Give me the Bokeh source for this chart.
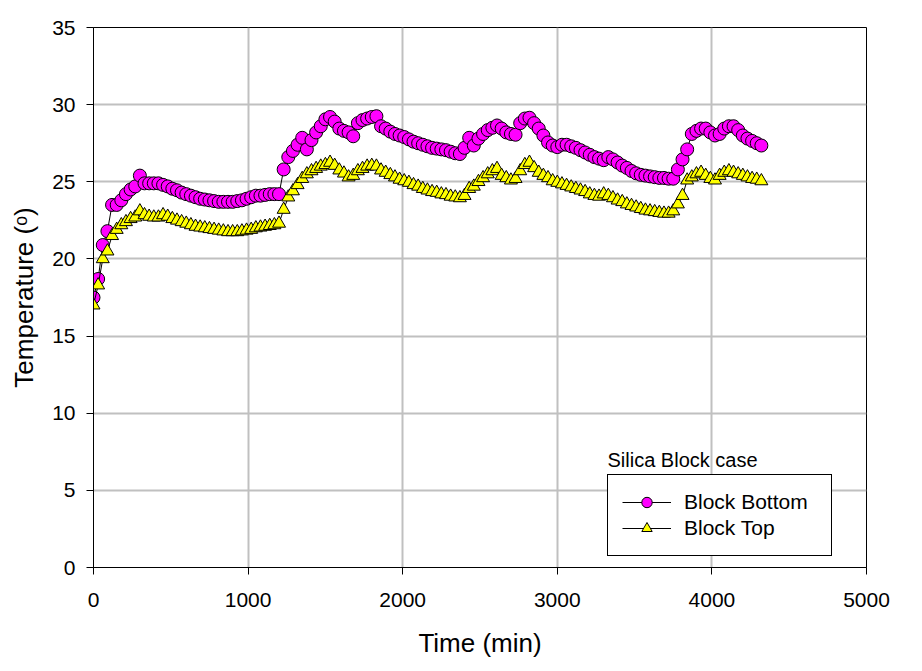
from bokeh.plotting import figure
from bokeh.models import Range1d, Legend, LegendItem, Label, FixedTicker
from bokeh.embed import file_html
from bokeh.resources import INLINE

time_min = [0, 30, 60, 90, 120, 150, 180, 210, 240, 270, 300, 330, 360, 390, 420, 450, 480, 510, 540, 570,
            600, 630, 660, 690, 720, 750, 780, 810, 840, 870, 900, 930, 960, 990, 1020, 1050, 1080, 1110, 1140, 1170,
            1200, 1230, 1260, 1290, 1320, 1350, 1380, 1410, 1440, 1470, 1500, 1530, 1560, 1590, 1620, 1650, 1680, 1710, 1740, 1770,
            1800, 1830, 1860, 1890, 1920, 1950, 1980, 2010, 2040, 2070, 2100, 2130, 2160, 2190, 2220, 2250, 2280, 2310, 2340, 2370,
            2400, 2430, 2460, 2490, 2520, 2550, 2580, 2610, 2640, 2670, 2700, 2730, 2760, 2790, 2820, 2850, 2880, 2910, 2940, 2970,
            3000, 3030, 3060, 3090, 3120, 3150, 3180, 3210, 3240, 3270, 3300, 3330, 3360, 3390, 3420, 3450, 3480, 3510, 3540, 3570,
            3600, 3630, 3660, 3690, 3720, 3750, 3780, 3810, 3840, 3870, 3900, 3930, 3960, 3990, 4020, 4050, 4080, 4110, 4140, 4170,
            4200, 4230, 4260, 4290, 4320]

block_bottom = [17.5, 18.7, 20.9, 21.8, 23.5, 23.5, 23.8, 24.2, 24.5, 24.7,
                25.4, 24.9, 24.9, 24.9, 24.9, 24.8, 24.7, 24.55, 24.45, 24.3,
                24.2, 24.1, 24.0, 23.9, 23.85, 23.8, 23.75, 23.7, 23.7, 23.7,
                23.7, 23.75, 23.8, 23.9, 24.0, 24.1, 24.1, 24.15, 24.2, 24.2,
                24.2, 25.8, 26.6, 27.0, 27.4, 27.85, 27.1, 27.7, 28.2, 28.6,
                29.05, 29.2, 28.9, 28.45, 28.3, 28.2, 27.95, 28.8, 29.0, 29.1,
                29.2, 29.25, 28.6, 28.45, 28.25, 28.1, 28.0, 27.9, 27.75, 27.6,
                27.5, 27.4, 27.3, 27.2, 27.15, 27.1, 27.05, 26.95, 26.85, 26.8,
                27.2, 27.85, 27.35, 27.8, 28.1, 28.35, 28.5, 28.65, 28.45, 28.2,
                28.1, 28.05, 28.8, 29.1, 29.15, 28.8, 28.45, 28.0, 27.55, 27.35,
                27.25, 27.4, 27.4, 27.3, 27.2, 27.05, 26.9, 26.75, 26.6, 26.5,
                26.4, 26.6, 26.45, 26.25, 26.05, 25.9, 25.7, 25.55, 25.45, 25.4,
                25.35, 25.3, 25.25, 25.25, 25.2, 25.2, 25.8, 26.45, 27.1, 28.1,
                28.3, 28.45, 28.45, 28.2, 28.0, 28.1, 28.45, 28.6, 28.6, 28.35,
                28.0, 27.8, 27.65, 27.5, 27.35]

block_top = [17.0, 18.3, 20.0, 20.5, 21.5, 21.9, 22.2, 22.4, 22.6, 22.7,
             23.1, 22.85, 22.75, 22.7, 22.7, 22.85, 22.75, 22.6, 22.5, 22.4,
             22.3, 22.2, 22.1, 22.05, 22.0, 21.95, 21.9, 21.85, 21.8, 21.75,
             21.75, 21.75, 21.8, 21.85, 21.9, 22.0, 22.05, 22.1, 22.15, 22.2,
             22.3, 23.2, 24.0, 24.4, 24.8, 25.2, 25.5, 25.7, 25.85, 26.0,
             26.1, 26.25, 26.05, 25.75, 25.55, 25.3, 25.4, 25.7, 25.85, 26.0,
             26.05, 26.0, 25.75, 25.6, 25.45, 25.3, 25.15, 25.05, 24.95, 24.8,
             24.7, 24.55, 24.45, 24.35, 24.3, 24.2, 24.15, 24.05, 24.0, 23.95,
             24.1, 24.55, 24.7, 25.0, 25.25, 25.5, 25.7, 25.85, 25.4, 25.25,
             25.1, 25.2, 25.7, 26.1, 26.25, 25.9, 25.6, 25.4, 25.25, 25.05,
             24.95, 24.85, 24.75, 24.65, 24.55, 24.45, 24.35, 24.2, 24.1, 24.05,
             24.2, 24.1, 23.95, 23.8, 23.7, 23.55, 23.45, 23.35, 23.25, 23.15,
             23.1, 23.05, 23.0, 22.95, 22.95, 23.1, 23.55, 24.1, 25.1, 25.3,
             25.5, 25.6, 25.4, 25.2, 25.1, 25.4, 25.6, 25.7, 25.6, 25.5,
             25.4, 25.3, 25.2, 25.15, 25.05]

x_ticks = [0, 1000, 2000, 3000, 4000, 5000]
y_ticks = [0, 5, 10, 15, 20, 25, 30, 35]

FONT = "Liberation Sans"

p = figure(frame_width=773, frame_height=540, output_backend="svg", toolbar_location=None,
           x_range=Range1d(0, 5000), y_range=Range1d(0, 35),
           min_border_left=93, min_border_top=27, min_border_bottom=100, min_border_right=40,
           background_fill_color="white", border_fill_color="white")

p.outline_line_color = "black"
p.outline_line_alpha = 1.0
p.outline_line_width = 1

p.xaxis.ticker = FixedTicker(ticks=x_ticks)
p.yaxis.ticker = FixedTicker(ticks=y_ticks)
p.xgrid.ticker = FixedTicker(ticks=x_ticks)
p.ygrid.ticker = FixedTicker(ticks=y_ticks)

for g in (p.xgrid, p.ygrid):
    g.grid_line_color = "#c0c0c0"
    g.grid_line_width = 2

for ax in (p.xaxis, p.yaxis):
    ax.axis_line_color = "black"
    ax.axis_line_width = 1
    ax.major_tick_line_color = "black"
    ax.major_tick_out = 7
    ax.major_tick_in = 0
    ax.minor_tick_line_color = None
    ax.major_label_text_font = FONT
    ax.major_label_text_font_size = "21px"
    ax.major_label_text_color = "black"
    ax.axis_label_text_font = FONT
    ax.axis_label_text_font_size = "26px"
    ax.axis_label_text_font_style = "normal"
    ax.axis_label_text_color = "black"

p.xaxis.axis_label = "Time (min)"
p.yaxis.axis_label = "Temperature (ᵒ)"
p.xaxis.major_label_standoff = 18
p.yaxis.major_label_standoff = 11
p.xaxis.axis_label_standoff = 18
p.yaxis.axis_label_standoff = 10

l1 = p.line(time_min, block_bottom, line_color="black", line_width=1)
s1 = p.scatter(time_min, block_bottom, marker="circle", size=13,
               fill_color="#ff00ff", line_color="black", line_width=1)
l2 = p.line(time_min, block_top, line_color="black", line_width=1)
s2 = p.scatter(time_min, block_top, marker="triangle", size=13,
               fill_color="#ffff00", line_color="black", line_width=1)

legend = Legend(items=[LegendItem(label="Block Bottom", renderers=[l1, s1]),
                       LegendItem(label="Block Top", renderers=[l2, s2])],
                location=(514, 11),
                label_text_font=FONT, label_text_font_size="21px", label_text_color="black",
                label_height=26, glyph_height=26, glyph_width=49,
                label_standoff=13, label_width=133, spacing=0, padding=14,
                margin=0,
                border_line_color="black", border_line_width=1, border_line_alpha=1.0,
                background_fill_color="white", background_fill_alpha=1.0)
p.add_layout(legend, "center")

title_lbl = Label(x=514, y=108, x_units="screen", y_units="screen",
                  text="Silica Block case", text_font=FONT, text_font_size="20px",
                  text_color="black", text_baseline="alphabetic", text_align="left")
p.add_layout(title_lbl)

open("out.html", "w").write(file_html(p, INLINE))
